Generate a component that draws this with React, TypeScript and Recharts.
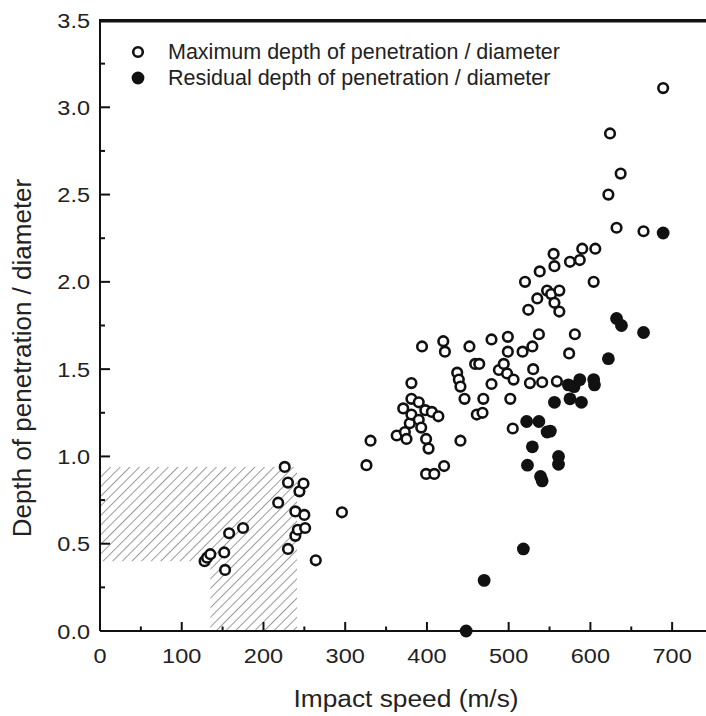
import React from "react";
import {
  ScatterChart,
  Scatter,
  XAxis,
  YAxis,
  ReferenceArea,
  ReferenceLine,
  Legend,
} from "recharts";

const FONT = "'Liberation Sans', Arial, sans-serif";
const INK = "#111";
const TEXT = "#222";

// open circles: maximum depth of penetration / diameter
const maxSpeed = [
  128, 131, 135, 152, 153, 158, 175, 218, 226, 230, 230, 239, 239, 242, 244, 249, 250, 251, 264, 296,
  326, 331, 363, 371, 373, 375, 379, 381, 381, 381, 390, 390, 393, 394, 398, 399, 399, 402, 406, 409,
  414, 420, 421, 422, 437, 439, 441, 441, 446, 452, 459, 464, 461, 468, 469, 479, 479, 488, 494, 498,
  499, 499, 502, 505, 506, 517, 520, 524, 526, 529, 530, 535, 537, 538, 541, 547, 552, 555, 556, 556,
  559, 562, 562, 574, 575, 581, 587, 590, 604, 606, 622, 624, 632, 637, 665, 689,
];
const maxDepth = [
  0.40, 0.42, 0.44, 0.45, 0.35, 0.56, 0.59, 0.735, 0.94, 0.85, 0.47, 0.685, 0.545, 0.58, 0.80, 0.845, 0.665, 0.59, 0.405, 0.68,
  0.95, 1.09, 1.12, 1.275, 1.14, 1.10, 1.19, 1.42, 1.33, 1.24, 1.31, 1.21, 1.165, 1.63, 1.265, 1.10, 0.90, 1.045, 1.255, 0.90,
  1.23, 1.66, 0.945, 1.60, 1.48, 1.44, 1.40, 1.09, 1.33, 1.63, 1.53, 1.53, 1.24, 1.25, 1.33, 1.67, 1.415, 1.495, 1.53, 1.475,
  1.685, 1.60, 1.33, 1.16, 1.44, 1.60, 2.00, 1.84, 1.42, 1.63, 1.50, 1.905, 1.70, 2.06, 1.425, 1.95, 1.93, 2.16, 2.09, 1.88,
  1.43, 1.95, 1.83, 1.59, 2.115, 1.70, 2.125, 2.19, 2.00, 2.19, 2.50, 2.85, 2.31, 2.62, 2.29, 3.11,
];

// filled circles: residual depth of penetration / diameter
const resSpeed = [
  448, 470, 518, 523, 529, 522, 537, 539, 541, 547, 551, 556, 561, 561, 573, 575, 580, 587, 589, 604,
  605, 622, 632, 638, 665, 689,
];
const resDepth = [
  0.0, 0.29, 0.47, 0.95, 1.055, 1.20, 1.20, 0.885, 0.86, 1.14, 1.145, 1.31, 1.00, 0.955, 1.41, 1.33, 1.40, 1.44, 1.31, 1.44,
  1.41, 1.56, 1.79, 1.75, 1.71, 2.28,
];

const seriesNames = [
  "Maximum depth of penetration / diameter",
  "Residual depth of penetration / diameter",
];

const xDomain = [0, 750];
const yDomain = [0, 3.5];
const xTicks = [0, 50, 100, 150, 200, 250, 300, 350, 400, 450, 500, 550, 600, 650, 700, 750];
const yTicks = [0, 0.25, 0.5, 0.75, 1, 1.25, 1.5, 1.75, 2, 2.25, 2.5, 2.75, 3, 3.25, 3.5];

// hatched L-shaped zone
const hatchX = [0, 135, 241];
const hatchY = [0, 0.4, 0.94];

const maxData = maxSpeed.map((s, i) => ({ speed: s, depth: maxDepth[i] }));
const resData = resSpeed.map((s, i) => ({ speed: s, depth: resDepth[i] }));

const OpenDot = (props: any) => (
  <circle cx={props.cx} cy={props.cy} r={4.8} fill="#fff" stroke={INK} strokeWidth={2.6} />
);
const FilledDot = (props: any) => (
  <circle cx={props.cx} cy={props.cy} r={6.4} fill={INK} stroke="none" />
);

const XTick = (props: any) => {
  const { x, y, payload } = props;
  const v = payload.value;
  const major = v % 100 === 0;
  return (
    <g>
      <line x1={x} x2={x} y1={y} y2={y - (major ? 9 : 4.5)} stroke={INK} strokeWidth={2} />
      {major && v < 750 && (
        <text
          transform={`translate(${x},${y + 32}) scale(1.12,1)`}
          textAnchor="middle"
          fontSize={21}
          fontFamily={FONT}
          fill={TEXT}
        >
          {v}
        </text>
      )}
    </g>
  );
};

const YTick = (props: any) => {
  const { x, y, payload } = props;
  const v = payload.value;
  const major = Math.abs(v * 2 - Math.round(v * 2)) < 1e-6;
  return (
    <g>
      <line x1={x} x2={x + (major ? 10 : 5)} y1={y} y2={y} stroke={INK} strokeWidth={2} />
      {major && (
        <text
          transform={`translate(${x - 10},${y + 7.5}) scale(1.12,1)`}
          textAnchor="end"
          fontSize={21}
          fontFamily={FONT}
          fill={TEXT}
        >
          {v.toFixed(1)}
        </text>
      )}
    </g>
  );
};

const renderLegend = () => (
  <div style={{ fontFamily: FONT, fontSize: 21.5, color: TEXT, whiteSpace: "nowrap" }}>
    {seriesNames.map((name, i) => (
      <div key={name} style={{ display: "flex", alignItems: "center", height: 26 }}>
        <svg width={16} height={16}>
          {i === 0 ? (
            <circle cx={8} cy={8} r={4.8} fill="#fff" stroke={INK} strokeWidth={2.6} />
          ) : (
            <circle cx={8} cy={8} r={6.4} fill={INK} />
          )}
        </svg>
        <span style={{ marginLeft: 22, lineHeight: "26px" }}>{name}</span>
      </div>
    ))}
  </div>
);

export default function App() {
  return (
    <div
      style={{
        position: "fixed",
        left: 0,
        top: 0,
        width: 706,
        height: 716,
        overflow: "hidden",
        background: "#fff",
      }}
    >
      <ScatterChart width={730} height={716} margin={{ top: 20, right: 17, bottom: 45, left: 40 }}>
        <defs>
          <pattern
            id="hatch"
            width={6.8}
            height={6.8}
            patternUnits="userSpaceOnUse"
            patternTransform="rotate(45)"
          >
            <line x1={0} y1={0} x2={0} y2={6.8} stroke="#666" strokeWidth={1.3} />
          </pattern>
        </defs>
        <XAxis
          type="number"
          dataKey="speed"
          domain={xDomain}
          ticks={xTicks}
          interval={0}
          height={40}
          tickSize={0}
          tickMargin={0}
          tickLine={false}
          axisLine={{ stroke: INK, strokeWidth: 2 }}
          tick={<XTick />}
          label={() => (
            <text
              transform="translate(406,707) scale(1.12,1)"
              textAnchor="middle"
              fontSize={23.5}
              fontFamily={FONT}
              fill={TEXT}
            >
              Impact speed (m/s)
            </text>
          )}
        />
        <YAxis
          type="number"
          dataKey="depth"
          domain={yDomain}
          ticks={yTicks}
          interval={0}
          width={60}
          tickSize={0}
          tickMargin={0}
          tickLine={false}
          axisLine={{ stroke: INK, strokeWidth: 2 }}
          tick={<YTick />}
          label={() => (
            <text
              transform="translate(31,358) rotate(-90)"
              textAnchor="middle"
              fontSize={26}
              fontFamily={FONT}
              fill={TEXT}
            >
              Depth of penetration / diameter
            </text>
          )}
        />
        <ReferenceArea
          x1={hatchX[0]}
          x2={hatchX[2]}
          y1={hatchY[1]}
          y2={hatchY[2]}
          fill="url(#hatch)"
          fillOpacity={1}
          stroke="none"
        />
        <ReferenceArea
          x1={hatchX[1]}
          x2={hatchX[2]}
          y1={hatchY[0]}
          y2={hatchY[1]}
          fill="url(#hatch)"
          fillOpacity={1}
          stroke="none"
        />
        {/* top frame edge, drawn just below the domain top so it stays inside the clip */}
        <ReferenceLine
          segment={[
            { x: xDomain[0], y: yDomain[1] * 0.998 },
            { x: xDomain[1], y: yDomain[1] * 0.998 },
          ]}
          stroke={INK}
          strokeWidth={2.5}
          ifOverflow="visible"
        />
        <Legend
          layout="vertical"
          align="center"
          verticalAlign="middle"
          content={renderLegend}
          wrapperStyle={{ left: 130, top: 38.5, width: "auto" }}
        />
        <Scatter
          name={seriesNames[0]}
          data={maxData}
          shape={<OpenDot />}
          isAnimationActive={false}
        />
        <Scatter
          name={seriesNames[1]}
          data={resData}
          shape={<FilledDot />}
          isAnimationActive={false}
        />
      </ScatterChart>
      {/* frame fallback */}
      <div
        style={{
          position: "absolute",
          left: 99,
          top: 19,
          width: 620,
          height: 2.5,
          background: INK,
        }}
      />
    </div>
  );
}
